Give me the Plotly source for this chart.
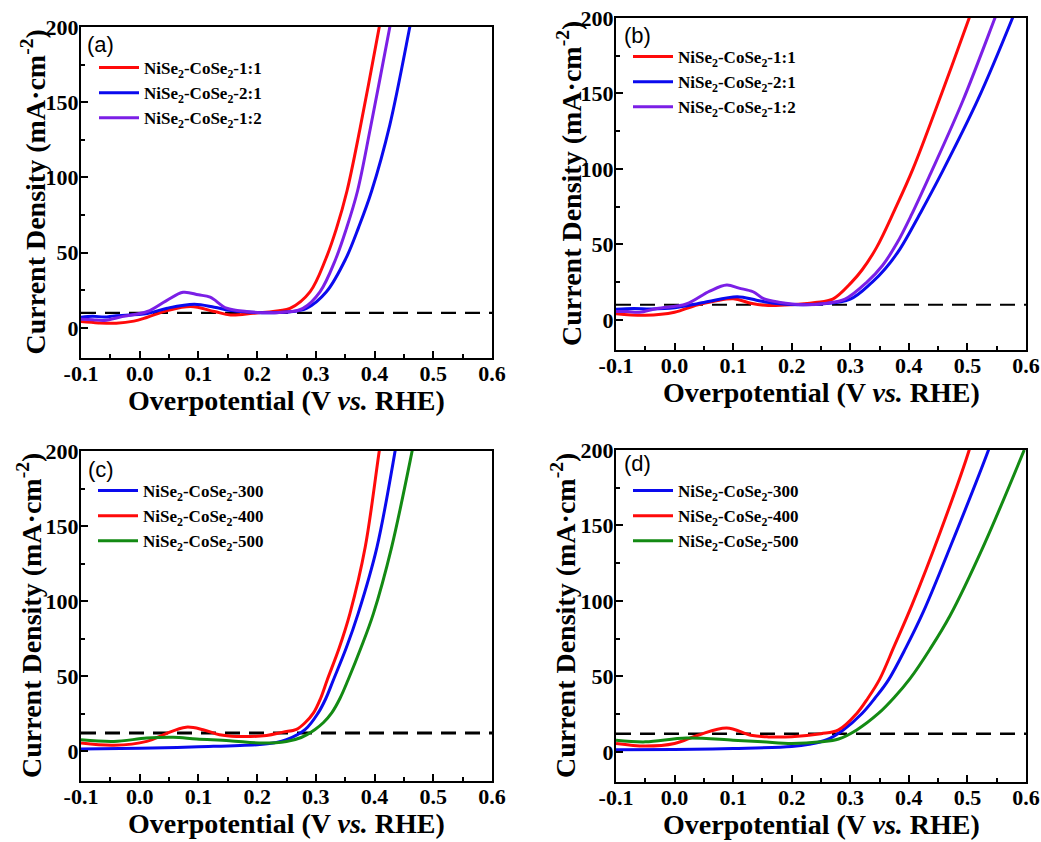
import plotly.graph_objects as go

# ---------------- data ----------------
X_TICKS = [-0.1, 0.0, 0.1, 0.2, 0.3, 0.4, 0.5, 0.6]
X_TICK_TEXT = ["-0.1", "0.0", "0.1", "0.2", "0.3", "0.4", "0.5", "0.6"]
Y_TICKS = [0, 50, 100, 150, 200]
Y_TICK_TEXT = ["0", "50", "100", "150", "200"]

# Panel (a)
A_RED_X = [-0.1, -0.07, -0.04, -0.01, 0.013, 0.047, 0.087, 0.127, 0.155, 0.193, 0.237, 0.256, 0.290, 0.317, 0.335, 0.353, 0.375, 0.408, 0.415]
A_RED_Y = [4.2, 3.3, 3.1, 4.5, 7.1, 11.5, 14.2, 10.9, 8.6, 9.7, 11.5, 13, 24, 46, 66, 91, 132, 200, 215]
A_BLUE_X = [-0.1, -0.08, -0.06, -0.043, 0.013, 0.047, 0.093, 0.127, 0.155, 0.182, 0.22, 0.25, 0.284, 0.318, 0.351, 0.373, 0.395, 0.426, 0.460, 0.466]
A_BLUE_Y = [7.1, 7.8, 7.2, 8.0, 9.6, 13.1, 15.7, 13.7, 11.5, 10.6, 10.0, 10.5, 13, 24, 46, 67, 91, 135, 200, 212]
A_PURPLE_X = [-0.1, -0.08, -0.06, -0.03, 0.013, 0.045, 0.074, 0.10, 0.12, 0.148, 0.182, 0.22, 0.25, 0.278, 0.307, 0.334, 0.352, 0.371, 0.393, 0.426, 0.432]
A_PURPLE_Y = [5.8, 5.5, 5.0, 7.5, 10.9, 18, 23.7, 22, 20.4, 13.1, 10.9, 10.0, 10.5, 13, 24, 46, 66, 91, 133, 200, 212]

# Panel (b)
B_RED_X = [-0.1, -0.05, 0.0, 0.04, 0.1, 0.13, 0.16, 0.2, 0.24, 0.270, 0.302, 0.32, 0.345, 0.376, 0.407, 0.456, 0.503, 0.51]
B_RED_Y = [4, 3, 5, 10, 14, 11, 9.5, 10, 11.5, 13.7, 24.8, 33, 48, 73, 100, 150, 200, 208]
B_BLUE_X = [-0.1, -0.07, -0.04, 0.0, 0.05, 0.107, 0.14, 0.17, 0.21, 0.25, 0.300, 0.337, 0.36, 0.385, 0.42, 0.457, 0.518, 0.577, 0.585]
B_BLUE_Y = [7, 7.5, 7.2, 8, 11.5, 15.3, 13, 11, 10, 10.5, 13.7, 24.8, 34, 47, 71, 98, 146, 200, 208]
B_PURPLE_X = [-0.1, -0.08, -0.06, -0.03, 0.02, 0.06, 0.089, 0.11, 0.134, 0.152, 0.178, 0.22, 0.26, 0.291, 0.328, 0.355, 0.38, 0.405, 0.436, 0.492, 0.547, 0.555]
B_PURPLE_Y = [5.5, 5.5, 5, 7.5, 10.5, 19, 23, 21, 18.6, 14, 11.7, 10, 11, 13.7, 24.8, 36, 51, 70, 96, 145, 200, 208]

# Panel (c)
C_BLUE_X = [-0.1, 0.0, 0.1, 0.2, 0.23, 0.25, 0.282, 0.304, 0.317, 0.330, 0.352, 0.372, 0.404, 0.435, 0.44]
C_BLUE_Y = [1.3, 1.8, 2.8, 4.2, 5.5, 7.5, 14.4, 25.4, 35, 47.5, 69, 91.6, 135.8, 200, 212]
C_RED_X = [-0.1, -0.044, 0.012, 0.04, 0.079, 0.108, 0.136, 0.165, 0.216, 0.244, 0.267, 0.282, 0.296, 0.308, 0.3195, 0.34, 0.358, 0.384, 0.408, 0.413]
C_RED_Y = [5.3, 3.8, 6.4, 10.8, 15.9, 14.2, 10.8, 9.7, 10.4, 12.6, 14.4, 19, 25.4, 35, 47.5, 69, 91.6, 135.8, 200, 212]
C_GREEN_X = [-0.1, -0.044, 0.012, 0.057, 0.097, 0.153, 0.21, 0.25, 0.275, 0.2986, 0.313, 0.327, 0.341, 0.355, 0.377, 0.398, 0.429, 0.464, 0.47]
C_GREEN_Y = [7.5, 6.4, 8.6, 9.1, 8.0, 6.9, 5.3, 6.4, 9, 14.4, 19, 25.4, 35, 47.5, 69, 91.6, 135.8, 200, 212]

# Panel (d)
D_BLUE_X = [-0.1, 0.0, 0.1, 0.2, 0.23, 0.26, 0.288, 0.320, 0.342, 0.365, 0.395, 0.425, 0.473, 0.536, 0.545]
D_BLUE_Y = [1.3, 1.5, 2.2, 3.5, 5, 8, 14.5, 25.4, 35.5, 47.5, 69, 93, 138, 200, 210]
D_RED_X = [-0.1, -0.05, 0.0, 0.04, 0.089, 0.13, 0.16, 0.2, 0.25, 0.280, 0.311, 0.33, 0.350, 0.375, 0.405, 0.453, 0.503, 0.51]
D_RED_Y = [5.5, 3.8, 5.5, 11, 15.8, 11, 9.9, 10, 12, 14.5, 25.4, 35.5, 48, 70, 97, 145, 200, 210]
D_GREEN_X = [-0.1, -0.05, 0.02, 0.1, 0.15, 0.2, 0.25, 0.28, 0.311, 0.348, 0.375, 0.402, 0.436, 0.47, 0.527, 0.597]
D_GREEN_Y = [7.7, 6.6, 9.2, 7.7, 6.6, 5.5, 6.6, 8.5, 14.5, 25.4, 36, 48.5, 68, 90, 136, 200]

REF_X = [-0.1, 0.6]
REF_Y_AB = [10, 10]
REF_Y_CD = [12, 12]

NAMES_RATIO = ["NiSe<sub>2</sub>-CoSe<sub>2</sub>-1:1", "NiSe<sub>2</sub>-CoSe<sub>2</sub>-2:1", "NiSe<sub>2</sub>-CoSe<sub>2</sub>-1:2"]
NAMES_TEMP = ["NiSe<sub>2</sub>-CoSe<sub>2</sub>-300", "NiSe<sub>2</sub>-CoSe<sub>2</sub>-400", "NiSe<sub>2</sub>-CoSe<sub>2</sub>-500"]
PANEL_LABELS = ["(a)", "(b)", "(c)", "(d)"]
X_TITLE = "<b>Overpotential (V <i>vs.</i> RHE)</b>"
Y_TITLE = "<b>Current Density (mA·cm<sup>-2</sup>)</b>"

# ---------------- style ----------------
RED = "#ff0a0a"
BLUE = "#0a0aee"
PURPLE = "#7b1fe6"
GREEN = "#138a13"
SERIF = "Liberation Serif"
W, H = 1041, 842

# plot-area pixel boxes (left, right, top, bottom)
BOXES = [(81, 492, 27, 358), (616, 1026, 18, 350), (81, 492, 451, 781), (616, 1026, 450, 782)]

fig = go.Figure()

panels = [
    [(A_RED_X, A_RED_Y, RED, NAMES_RATIO[0]), (A_BLUE_X, A_BLUE_Y, BLUE, NAMES_RATIO[1]), (A_PURPLE_X, A_PURPLE_Y, PURPLE, NAMES_RATIO[2])],
    [(B_RED_X, B_RED_Y, RED, NAMES_RATIO[0]), (B_BLUE_X, B_BLUE_Y, BLUE, NAMES_RATIO[1]), (B_PURPLE_X, B_PURPLE_Y, PURPLE, NAMES_RATIO[2])],
    [(C_BLUE_X, C_BLUE_Y, BLUE, NAMES_TEMP[0]), (C_RED_X, C_RED_Y, RED, NAMES_TEMP[1]), (C_GREEN_X, C_GREEN_Y, GREEN, NAMES_TEMP[2])],
    [(D_BLUE_X, D_BLUE_Y, BLUE, NAMES_TEMP[0]), (D_RED_X, D_RED_Y, RED, NAMES_TEMP[1]), (D_GREEN_X, D_GREEN_Y, GREEN, NAMES_TEMP[2])],
]
ref_ys = [REF_Y_AB, REF_Y_AB, REF_Y_CD, REF_Y_CD]
dash_w = [2.2, 2.2, 3.2, 2.4]

# legend positions: (left px, top px)
LEG_POS = [(94, 50), (628, 39), (93, 473), (628, 473)]
YTITLE_X = [34, 569, 29, 563]
LABEL_POS = [(100, 45), (637, 35), (101, 469), (637, 464)]

layout = dict(template="none", width=W, height=H, margin=dict(l=0, r=0, t=0, b=0, pad=0),
              paper_bgcolor="white", plot_bgcolor="white", showlegend=True)
annotations = []

tick_x = ["<b>%s</b>" % t for t in X_TICK_TEXT]
tick_y = ["<b>%s</b>" % t for t in Y_TICK_TEXT]

for i, (box, series) in enumerate(zip(BOXES, panels)):
    n = "" if i == 0 else str(i + 1)
    xa, ya = "x" + n, "y" + n
    leg = "legend" + n
    fig.add_trace(go.Scatter(x=REF_X, y=ref_ys[i], mode="lines", xaxis=xa, yaxis=ya,
                             line=dict(color="black", width=dash_w[i], dash="15px,9px"),
                             showlegend=False, hoverinfo="skip"))
    for (xs, ys, col, name) in series:
        fig.add_trace(go.Scatter(x=xs, y=ys, mode="lines", name=name, xaxis=xa, yaxis=ya,
                                 line=dict(color=col, width=3, shape="spline", smoothing=1.0),
                                 legend=leg))
    l, r, t, b = box
    xdom = [l / W, r / W]
    ydom = [1 - b / H, 1 - t / H]
    tickfont = dict(family=SERIF, size=22, color="black", weight="bold")
    common = dict(ticks="inside", ticklen=7, tickwidth=2, tickcolor="black",
                  showline=True, mirror=True, linecolor="black", linewidth=2,
                  showgrid=False, zeroline=False, tickfont=tickfont, automargin=False)
    layout["xaxis" + n] = dict(domain=xdom, anchor=ya, range=[-0.1, 0.6],
                               tickmode="array", tickvals=X_TICKS, ticktext=tick_x,
                               ticklabelstandoff=-5,
                               minor=dict(ticks="inside", ticklen=4, tickwidth=2, tickcolor="black",
                                          tick0=-0.1, dtick=0.05, showgrid=False),
                               **common)
    layout["yaxis" + n] = dict(domain=ydom, anchor=xa, range=[-20, 200],
                               tickmode="array", tickvals=Y_TICKS, ticktext=tick_y,
                               ticklabelstandoff=-4,
                               minor=dict(ticks="inside", ticklen=4, tickwidth=2, tickcolor="black",
                                          tick0=0, dtick=25, showgrid=False),
                               **common)
    lx, ly = LEG_POS[i]
    layout[leg] = dict(x=lx / W, y=1 - ly / H, xanchor="left", yanchor="top",
                       bgcolor="rgba(0,0,0,0)", borderwidth=0, itemwidth=40,
                       font=dict(family=SERIF, size=17, color="black", weight="bold"),
                       tracegroupgap=0)
    annotations.append(dict(text=X_TITLE, x=(l + r) / 2 / W, y=1 - (b + 42) / H,
                            xref="paper", yref="paper", showarrow=False,
                            xanchor="center", yanchor="middle",
                            font=dict(family=SERIF, size=28, color="black")))
    annotations.append(dict(text=Y_TITLE, x=YTITLE_X[i] / W, y=1 - (t + b) / 2 / H,
                            xref="paper", yref="paper", showarrow=False, textangle=-90,
                            xanchor="center", yanchor="middle",
                            font=dict(family=SERIF, size=28, color="black")))
    plx, ply = LABEL_POS[i]
    annotations.append(dict(text=PANEL_LABELS[i], x=plx / W, y=1 - ply / H,
                            xref="paper", yref="paper", showarrow=False,
                            xanchor="center", yanchor="middle",
                            font=dict(family="Liberation Sans", size=22, color="black")))

layout["annotations"] = annotations
fig.update_layout(**layout)
fig.write_html("out.html")
